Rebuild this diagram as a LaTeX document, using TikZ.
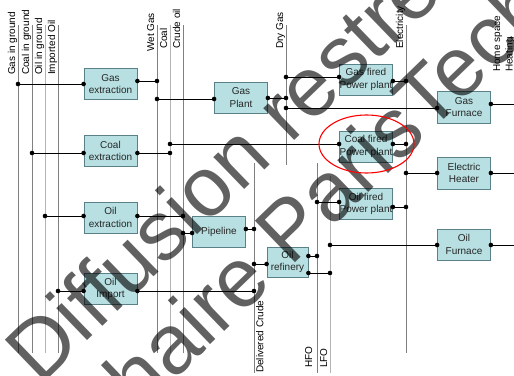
\documentclass[tikz,border=0pt]{standalone}
\usepackage{fontspec}
\setmainfont{Liberation Sans}
\definecolor{boxfill}{HTML}{B8E0E2}
\definecolor{boxline}{HTML}{5A8088}
\definecolor{busdark}{HTML}{808080}
\definecolor{buslight}{HTML}{B4B4B4}
\begin{document}
\begin{tikzpicture}[x=1pt,y=-1pt,
  box/.style={draw=boxline,fill=boxfill,line width=0.8pt,minimum width=53pt,minimum height=31pt,inner sep=0pt,align=center,text=black!85,font=\fontsize{10}{12.5}\selectfont},
  bus/.style={draw=busdark,line width=0.8pt},
  buslt/.style={draw=buslight,line width=0.8pt},
  link/.style={draw=black,line width=0.9pt},
  toplab/.style={rotate=90,anchor=base west,inner sep=0pt,text=black,font=\fontsize{10}{12}\selectfont},
  botlab/.style={rotate=90,anchor=north west,inner sep=0pt,text=black,font=\fontsize{10}{12}\selectfont},
  wmark/.style={rotate=44,anchor=base west,inner sep=0pt,text=black,text opacity=0.62,font=\fontsize{84}{84}\selectfont}]
\useasboundingbox (0,0) rectangle (514,375);
% ---- bus lines (top/bottom coordinates)
\coordinate (gigT) at (18,25);  \coordinate (gigB) at (18,353);
\coordinate (cigT) at (32,25);  \coordinate (cigB) at (32,353);
\coordinate (oigT) at (45,25);  \coordinate (oigB) at (45,353);
\coordinate (imoT) at (58,25);  \coordinate (imoB) at (58,353);
\coordinate (wetT) at (157,25); \coordinate (wetB) at (157,353);
\coordinate (colT) at (170,25); \coordinate (colB) at (170,353);
\coordinate (cruT) at (183,25); \coordinate (cruB) at (183,353);
\coordinate (dryT) at (286,25); \coordinate (dryB) at (286,165);
\coordinate (eleT) at (406,25); \coordinate (eleB) at (406,353);
\coordinate (delT) at (254,163); \coordinate (delB) at (254,373);
\coordinate (hfoT) at (317,163); \coordinate (hfoB) at (317,373);
\coordinate (lfoT) at (330,176); \coordinate (lfoB) at (330,373);
\draw[bus] (gigT) -- (gigB);
\draw[bus] (cigT) -- (cigB);
\draw[buslt] (oigT) -- (oigB);
\draw[bus] (imoT) -- (imoB);
\draw[bus] (wetT) -- (wetB);
\draw[buslt] (colT) -- (colB);
\draw[bus] (cruT) -- (cruB);
\draw[bus] (dryT) -- (dryB);
\draw[bus] (eleT) -- (eleB);
\draw[bus] (delT) -- (delB);
\draw[bus] (hfoT) -- (hfoB);
\draw[buslt] (lfoT) -- (lfoB);
% ---- labels
\node[toplab] (lgig) at (15,75) {Gas in ground};
\node[toplab] (lcig) at (29,75) {Coal in ground};
\node[toplab] (loig) at (42,75) {Oil in ground};
\node[toplab] (limo) at (55,75) {Imported Oil};
\node[toplab] (lwet) at (154,52) {Wet Gas};
\node[toplab] (lcol) at (167,49) {Coal};
\node[toplab] (lcru) at (180,49) {Crude oil};
\node[toplab] (ldry) at (283,49) {Dry Gas};
\node[toplab] (lele) at (403,49) {Electricity};
\node[rotate=90,anchor=south west,inner sep=0pt,align=left,font=\fontsize{10}{12.5}\selectfont] (lhome) at (515,72) {Home space\\Heating};
\node[botlab] (ldel) at (256,373) {Delivered Crude};
\node[toplab] (lhfo) at (312,368) {HFO};
\node[toplab] (llfo) at (327,368) {LFO};
% ---- boxes
\node[box] (gasext) at (110.5,84) {Gas\\extraction};
\node[box] (coalext) at (110.5,151) {Coal\\extraction};
\node[box] (oilext) at (110.5,217.5) {Oil\\extraction};
\node[box] (oilimp) at (110.5,289) {Oil\\Import};
\node[box] (gasplant) at (241,97.5) {Gas\\Plant};
\node[box] (pipeline) at (219,231.5) {Pipeline};
\node[box,minimum width=41pt,minimum height=30pt] (refinery) at (287.5,262) {Oil\\refinery};
\node[box,minimum height=31pt] (gfpp) at (366,79.5) {Gas fired\\Power plant};
\node[box] (cfpp) at (366,146.5) {Coal fired\\Power plant};
\node[box] (ofpp) at (366,204) {Oil fired\\Power plant};
\node[box,minimum height=32pt] (gfurn) at (464,107) {Gas\\Furnace};
\node[box,minimum height=32pt] (eheat) at (464,173) {Electric\\Heater};
\node[box,minimum height=31pt] (ofurn) at (464,244.5) {Oil\\Furnace};
% ---- junctions
\coordinate (j1) at (18,84);   \coordinate (j2) at (157,81);
\coordinate (j3) at (157,99);  \coordinate (j4) at (286,98);
\coordinate (j5) at (286,77);  \coordinate (j6) at (286,108);
\coordinate (j7) at (406,81);  \coordinate (r1) at (514,104);
\coordinate (j9) at (32,153);  \coordinate (j10) at (170,153);
\coordinate (j11) at (170,144); \coordinate (j12) at (406,144);
\coordinate (j13) at (406,173); \coordinate (r2) at (514,173);
\coordinate (j15) at (45,216); \coordinate (j16) at (183,216);
\coordinate (j17) at (183,233); \coordinate (j18) at (254,229);
\coordinate (j19) at (58,291); \coordinate (j20) at (254,291);
\coordinate (j21) at (254,264); \coordinate (j22) at (317,256);
\coordinate (j23) at (330,273); \coordinate (j24) at (317,202);
\coordinate (j25) at (406,207); \coordinate (j26) at (330,245);
\coordinate (r3) at (514,245);
% ---- ports
\coordinate (p1) at (gasext.west |- j1);  \coordinate (p2) at (gasext.east |- j2);
\coordinate (p3) at (gasplant.west |- j3); \coordinate (p4) at (gasplant.east |- j4);
\coordinate (p5) at (gfpp.west |- j5);    \coordinate (p6) at (gfurn.west |- j6);
\coordinate (p7) at (gfpp.east |- j7);    \coordinate (p8) at (gfurn.east |- r1);
\coordinate (p9) at (coalext.west |- j9); \coordinate (p10) at (coalext.east |- j10);
\coordinate (p11) at (cfpp.west |- j11);  \coordinate (p12) at (cfpp.east |- j12);
\coordinate (p13) at (eheat.west |- j13); \coordinate (p14) at (eheat.east |- r2);
\coordinate (p15) at (oilext.west |- j15); \coordinate (p16) at (oilext.east |- j16);
\coordinate (p17) at (pipeline.west |- j17); \coordinate (p18) at (pipeline.east |- j18);
\coordinate (p19) at (oilimp.west |- j19); \coordinate (p20) at (oilimp.east |- j20);
\coordinate (p21) at (refinery.west |- j21); \coordinate (p22) at (refinery.east |- j22);
\coordinate (p23) at (refinery.east |- j23); \coordinate (p24) at (ofpp.west |- j24);
\coordinate (p25) at (ofpp.east |- j25); \coordinate (p26) at (ofurn.west |- j26);
\coordinate (p27) at (ofurn.east |- r3);
% ---- links
\draw[link] (j1) -- (p1);  \draw[link] (p2) -- (j2);
\draw[link] (j3) -- (p3);  \draw[link] (p4) -- (j4);
\draw[link] (j5) -- (p5);  \draw[link] (j6) -- (p6);
\draw[link] (p7) -- (j7);  \draw[link] (p8) -- (r1);
\draw[link] (j9) -- (p9);  \draw[link] (p10) -- (j10);
\draw[link] (j11) -- (p11); \draw[link] (p12) -- (j12);
\draw[link] (j13) -- (p13); \draw[link] (p14) -- (r2);
\draw[link] (j15) -- (p15); \draw[link] (p16) -- (j16);
\draw[link] (j17) -- (p17); \draw[link] (p18) -- (j18);
\draw[link] (j19) -- (p19); \draw[link] (p20) -- (j20);
\draw[link] (j21) -- (p21); \draw[link] (p22) -- (j22);
\draw[link] (p23) -- (j23); \draw[link] (j24) -- (p24);
\draw[link] (p25) -- (j25); \draw[link] (j26) -- (p26);
\draw[link] (p27) -- (r3);
% ---- dots
\foreach \c in {j1,j2,j3,j4,j5,j6,j7,j9,j10,j11,j12,j13,j15,j16,j17,j18,j19,j20,j21,j22,j23,j24,j25,j26,
  p1,p2,p3,p4,p5,p6,p7,p8,p9,p10,p11,p12,p13,p14,p15,p16,p17,p18,p19,p20,p21,p22,p23,p24,p25,p26,p27}
  \fill (\c) circle (2.3pt);
% ---- watermark
\node[wmark] (wm1) at (40,387) {Diffusion restreinte};
\node[wmark] (wm2) at (96,456) {Chaire ParisTech};
% ---- highlight
\draw[red,line width=1.1pt] (366.5,144) ellipse [x radius=47.5pt, y radius=29pt];
\end{tikzpicture}
\end{document}
